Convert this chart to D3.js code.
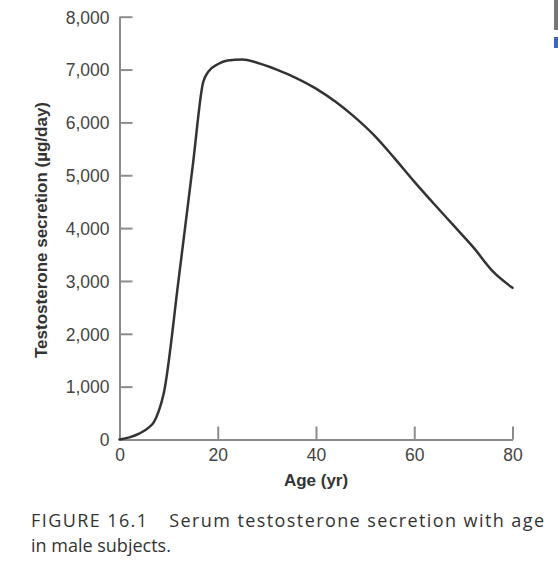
<!DOCTYPE html>
<html>
<head>
<meta charset="utf-8">
<script src="https://cdn.jsdelivr.net/npm/d3@7"></script>
<style>
    body{margin:0;background:#fff;}
    svg{display:block;}
    .tick text{font-family:"Liberation Sans",Arial,sans-serif;font-size:17.5px;fill:#444;}
    .axis-title{font-family:"Liberation Sans",Arial,sans-serif;font-size:17px;font-weight:bold;fill:#333;}
    .caption{font-family:"Open Sans",Lato,sans-serif;font-size:18px;fill:#333;}
</style>
</head>
<body>
<svg id="chart"></svg>
<script>
// age (yr) and secretion (µg/day)
const ages=[0,2,4,6,7,8,9,12,15,17,18,20,22,25,28,32,36,40,44,48,52,56,60,64,68,72,76,80];
const secretion=[0,40,110,230,330,540,870,3000,5250,6750,6950,7100,7170,7190,7130,7000,6840,6640,6390,6090,5740,5320,4880,4460,4050,3640,3180,2870];

const x_ticks=[0,20,40,60,80];
const y_ticks=[0,1000,2000,3000,4000,5000,6000,7000,8000];

const caption_lines=[
    'FIGURE 16.1\u2002\u2002Serum testosterone secretion with age',
    'in male subjects.'
];

let win={w:558,h:567};
let m={top:16.7,left:119.5,right:45.5,bottom:127.5};

const dom={};

window.addEventListener('load',init);

function init(){
    dom.svg=d3.select('#chart').attr('width',win.w).attr('height',win.h);

    let w=win.w-m.left-m.right;
    let h=win.h-m.top-m.bottom;

    let x=d3.scaleLinear().domain([0,80]).range([0,w]);
    let y=d3.scaleLinear().domain([0,8000]).range([h,0]);

    let g=dom.svg.append('g').attr('transform',`translate(${m.left},${m.top})`);

    // y axis, ticks point inward
    let y_axis=g.append('g')
        .call(d3.axisLeft(y).tickValues(y_ticks).tickFormat(d3.format(',')).tickSizeInner(-13).tickSizeOuter(0).tickPadding(10));

    let x_axis=g.append('g')
        .attr('transform',`translate(0,${h})`)
        .call(d3.axisBottom(x).tickValues(x_ticks).tickSizeInner(-13).tickSizeOuter(0).tickPadding(9));

    [y_axis,x_axis].forEach(a=>{
        a.attr('font-family',null).attr('font-size',null);
        a.select('.domain').attr('stroke','#8c8c8c').attr('stroke-width',2);
        a.selectAll('.tick line').attr('stroke','#8c8c8c').attr('stroke-width',2);
    });
    y_axis.selectAll('.tick text').attr('dy','0.36em');

    let line=d3.line()
        .x((d,i)=>x(ages[i]))
        .y(d=>y(d))
        .curve(d3.curveMonotoneX);

    g.append('path')
        .datum(secretion)
        .attr('d',line)
        .attr('fill','none')
        .attr('stroke','#333')
        .attr('stroke-width',2.5)
        .attr('stroke-linejoin','round')
        .attr('stroke-linecap','round');

    g.append('text')
        .attr('class','axis-title')
        .attr('text-anchor','middle')
        .attr('x',x(40))
        .attr('y',h+47)
        .text('Age (yr)');

    g.append('text')
        .attr('class','axis-title')
        .attr('text-anchor','middle')
        .attr('transform',`translate(${47-m.left},${230-m.top}) rotate(-90)`)
        .text('Testosterone secretion (µg/day)');

    // first caption line is set to the full measure of the figure
    dom.svg.selectAll('text.caption')
        .data(caption_lines)
        .join('text')
        .attr('class','caption')
        .attr('x',31)
        .attr('y',(d,i)=>527+i*25)
        .attr('textLength',(d,i)=>i==0?513:null)
        .attr('lengthAdjust','spacing')
        .text(d=>d);

    // scanned page edge in the top-right corner
    dom.svg.append('rect').attr('x',554).attr('y',0).attr('width',4).attr('height',30).attr('fill','#777');
    dom.svg.append('rect').attr('x',554).attr('y',37).attr('width',4).attr('height',11).attr('fill','#3a66c4');
}
</script>
</body>
</html>
